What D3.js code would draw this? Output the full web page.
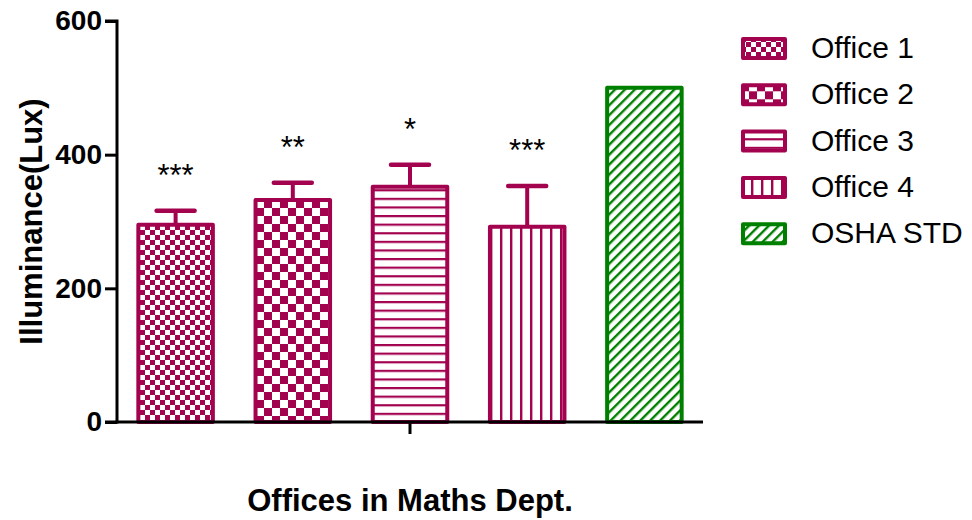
<!DOCTYPE html>
<html>
<head>
<meta charset="utf-8">
<script src="https://cdn.jsdelivr.net/npm/d3@7"></script>
<style>
  html, body { margin: 0; padding: 0; background: #fff; }
  svg { display: block; font-family: Arial, "Liberation Sans", sans-serif; }
</style>
</head>
<body>
<svg id="chart" width="972" height="520"></svg>
<script>
// Mean illuminance per office with SD, compared to the OSHA standard
const categories = ["Office 1", "Office 2", "Office 3", "Office 4", "OSHA STD"];
const means = [295, 332, 352, 292, 500];
const errors = [21, 26, 33, 61, 0];
const significance = ["***", "**", "*", "***", ""];
const yTicks = [0, 200, 400, 600];
const patternIds = ["pCheckSmall", "pCheckLarge", "pHoriz", "pVert", "pDiag"];

const purple = "#A3024F";
const green = "#008000";
const colors = [purple, purple, purple, purple, green];

const svg = d3.select("#chart");
const margin = { left: 117, right: 269, top: 21, bottom: 98 };
const W = 972, H = 520;

const x = d3.scaleBand()
  .domain(categories)
  .range([margin.left, W - margin.right])
  .paddingInner(0.33)
  .paddingOuter(0.165);

const y = d3.scaleLinear().domain([0, 600]).range([H - margin.bottom, margin.top]);

// Fill patterns
const defs = svg.append("defs");
function checker(id, size, color) {
  const p = defs.append("pattern").attr("id", id).attr("patternUnits", "userSpaceOnUse")
    .attr("width", size * 2).attr("height", size * 2);
  p.append("rect").attr("width", size * 2).attr("height", size * 2).attr("fill", "#fff");
  p.append("rect").attr("x", 0).attr("y", 0).attr("width", size).attr("height", size).attr("fill", color);
  p.append("rect").attr("x", size).attr("y", size).attr("width", size).attr("height", size).attr("fill", color);
}
checker("pCheckSmall", 5, purple);
checker("pCheckLarge", 8, purple);
(function () {
  const p = defs.append("pattern").attr("id", "pHoriz").attr("patternUnits", "userSpaceOnUse")
    .attr("width", 10).attr("height", 8.6);
  p.append("rect").attr("width", 10).attr("height", 8.6).attr("fill", "#fff");
  p.append("rect").attr("x", 0).attr("y", 0).attr("width", 10).attr("height", 2.2).attr("fill", purple);
})();
(function () {
  const p = defs.append("pattern").attr("id", "pVert").attr("patternUnits", "userSpaceOnUse")
    .attr("width", 10).attr("height", 10);
  p.append("rect").attr("width", 10).attr("height", 10).attr("fill", "#fff");
  p.append("rect").attr("x", 0).attr("y", 0).attr("width", 2.4).attr("height", 10).attr("fill", purple);
})();
(function () {
  const p = defs.append("pattern").attr("id", "pDiag").attr("patternUnits", "userSpaceOnUse")
    .attr("width", 7).attr("height", 7).attr("patternTransform", "rotate(45)");
  p.append("rect").attr("width", 7).attr("height", 7).attr("fill", "#fff");
  p.append("rect").attr("x", 0).attr("y", 0).attr("width", 2.4).attr("height", 7).attr("fill", green);
})();

const sw = 4;

// Error bars (drawn beneath the bars)
const eb = svg.append("g");
categories.forEach((c, i) => {
  if (!errors[i]) return;
  const cx = x(c) + x.bandwidth() / 2;
  const top = y(means[i] + errors[i]);
  eb.append("line").attr("x1", cx).attr("x2", cx).attr("y1", y(means[i])).attr("y2", top)
    .attr("stroke", colors[i]).attr("stroke-width", sw);
  eb.append("line").attr("x1", cx - 19).attr("x2", cx + 19).attr("y1", top).attr("y2", top)
    .attr("stroke", colors[i]).attr("stroke-width", sw + 0.5).attr("stroke-linecap", "round");
});

// Bars
svg.append("g").selectAll("rect").data(categories).join("rect")
  .attr("x", c => x(c) + sw / 2)
  .attr("width", x.bandwidth() - sw)
  .attr("y", (c, i) => y(means[i]))
  .attr("height", (c, i) => y(0) - y(means[i]))
  .attr("fill", (c, i) => `url(#${patternIds[i]})`)
  .attr("stroke", (c, i) => colors[i])
  .attr("stroke-width", sw)
  .attr("stroke-linejoin", "round");

// Significance markers
svg.append("g").selectAll("text").data(categories).join("text")
  .attr("x", c => x(c) + x.bandwidth() / 2)
  .attr("y", (c, i) => y(means[i] + errors[i]) - 25)
  .attr("text-anchor", "middle")
  .attr("font-size", 31)
  .attr("fill", "#000")
  .text((c, i) => significance[i]);

// Y axis
const yAxis = svg.append("g").attr("transform", `translate(${margin.left},0)`)
  .call(d3.axisLeft(y).tickValues(yTicks).tickSize(12).tickPadding(3).tickFormat(d3.format("d")));
yAxis.select(".domain").attr("stroke-width", 3).attr("d", `M-12,${y(600)}H0V${y(0)}H-12`);
yAxis.selectAll(".tick line").attr("stroke-width", 3);
yAxis.selectAll(".tick text").attr("font-size", 28).attr("font-weight", "bold")
  .attr("font-family", "Arial, 'Liberation Sans', sans-serif").attr("fill", "#000");

// X axis line with a single centre tick
const xg = svg.append("g");
xg.append("line").attr("x1", margin.left - 1.5).attr("x2", W - margin.right)
  .attr("y1", y(0)).attr("y2", y(0)).attr("stroke", "#000").attr("stroke-width", 3);
const xMid = (margin.left + W - margin.right) / 2;
xg.append("line").attr("x1", xMid).attr("x2", xMid).attr("y1", y(0)).attr("y2", y(0) + 12)
  .attr("stroke", "#000").attr("stroke-width", 3);

// Axis titles
svg.append("text").attr("x", xMid).attr("y", 511).attr("text-anchor", "middle")
  .attr("font-size", 31).attr("font-weight", "bold").text("Offices in Maths Dept.");
svg.append("text").attr("transform", `translate(42,${(y(0) + y(600)) / 2}) rotate(-90)`)
  .attr("text-anchor", "middle").attr("font-size", 31).attr("font-weight", "bold")
  .text("Illuminance(Lux)");

// Legend
const legend = svg.append("g").attr("transform", "translate(741,37)");
categories.forEach((c, i) => {
  const g = legend.append("g").attr("transform", `translate(0,${i * 46.3})`);
  g.append("rect").attr("x", 2).attr("y", 2).attr("width", 42).attr("height", 19)
    .attr("fill", `url(#${patternIds[i]})`).attr("stroke", colors[i]).attr("stroke-width", sw)
    .attr("stroke-linejoin", "round");
  g.append("text").attr("x", 70).attr("y", 21).attr("font-size", 30).attr("fill", "#000").text(c);
});
</script>
</body>
</html>
